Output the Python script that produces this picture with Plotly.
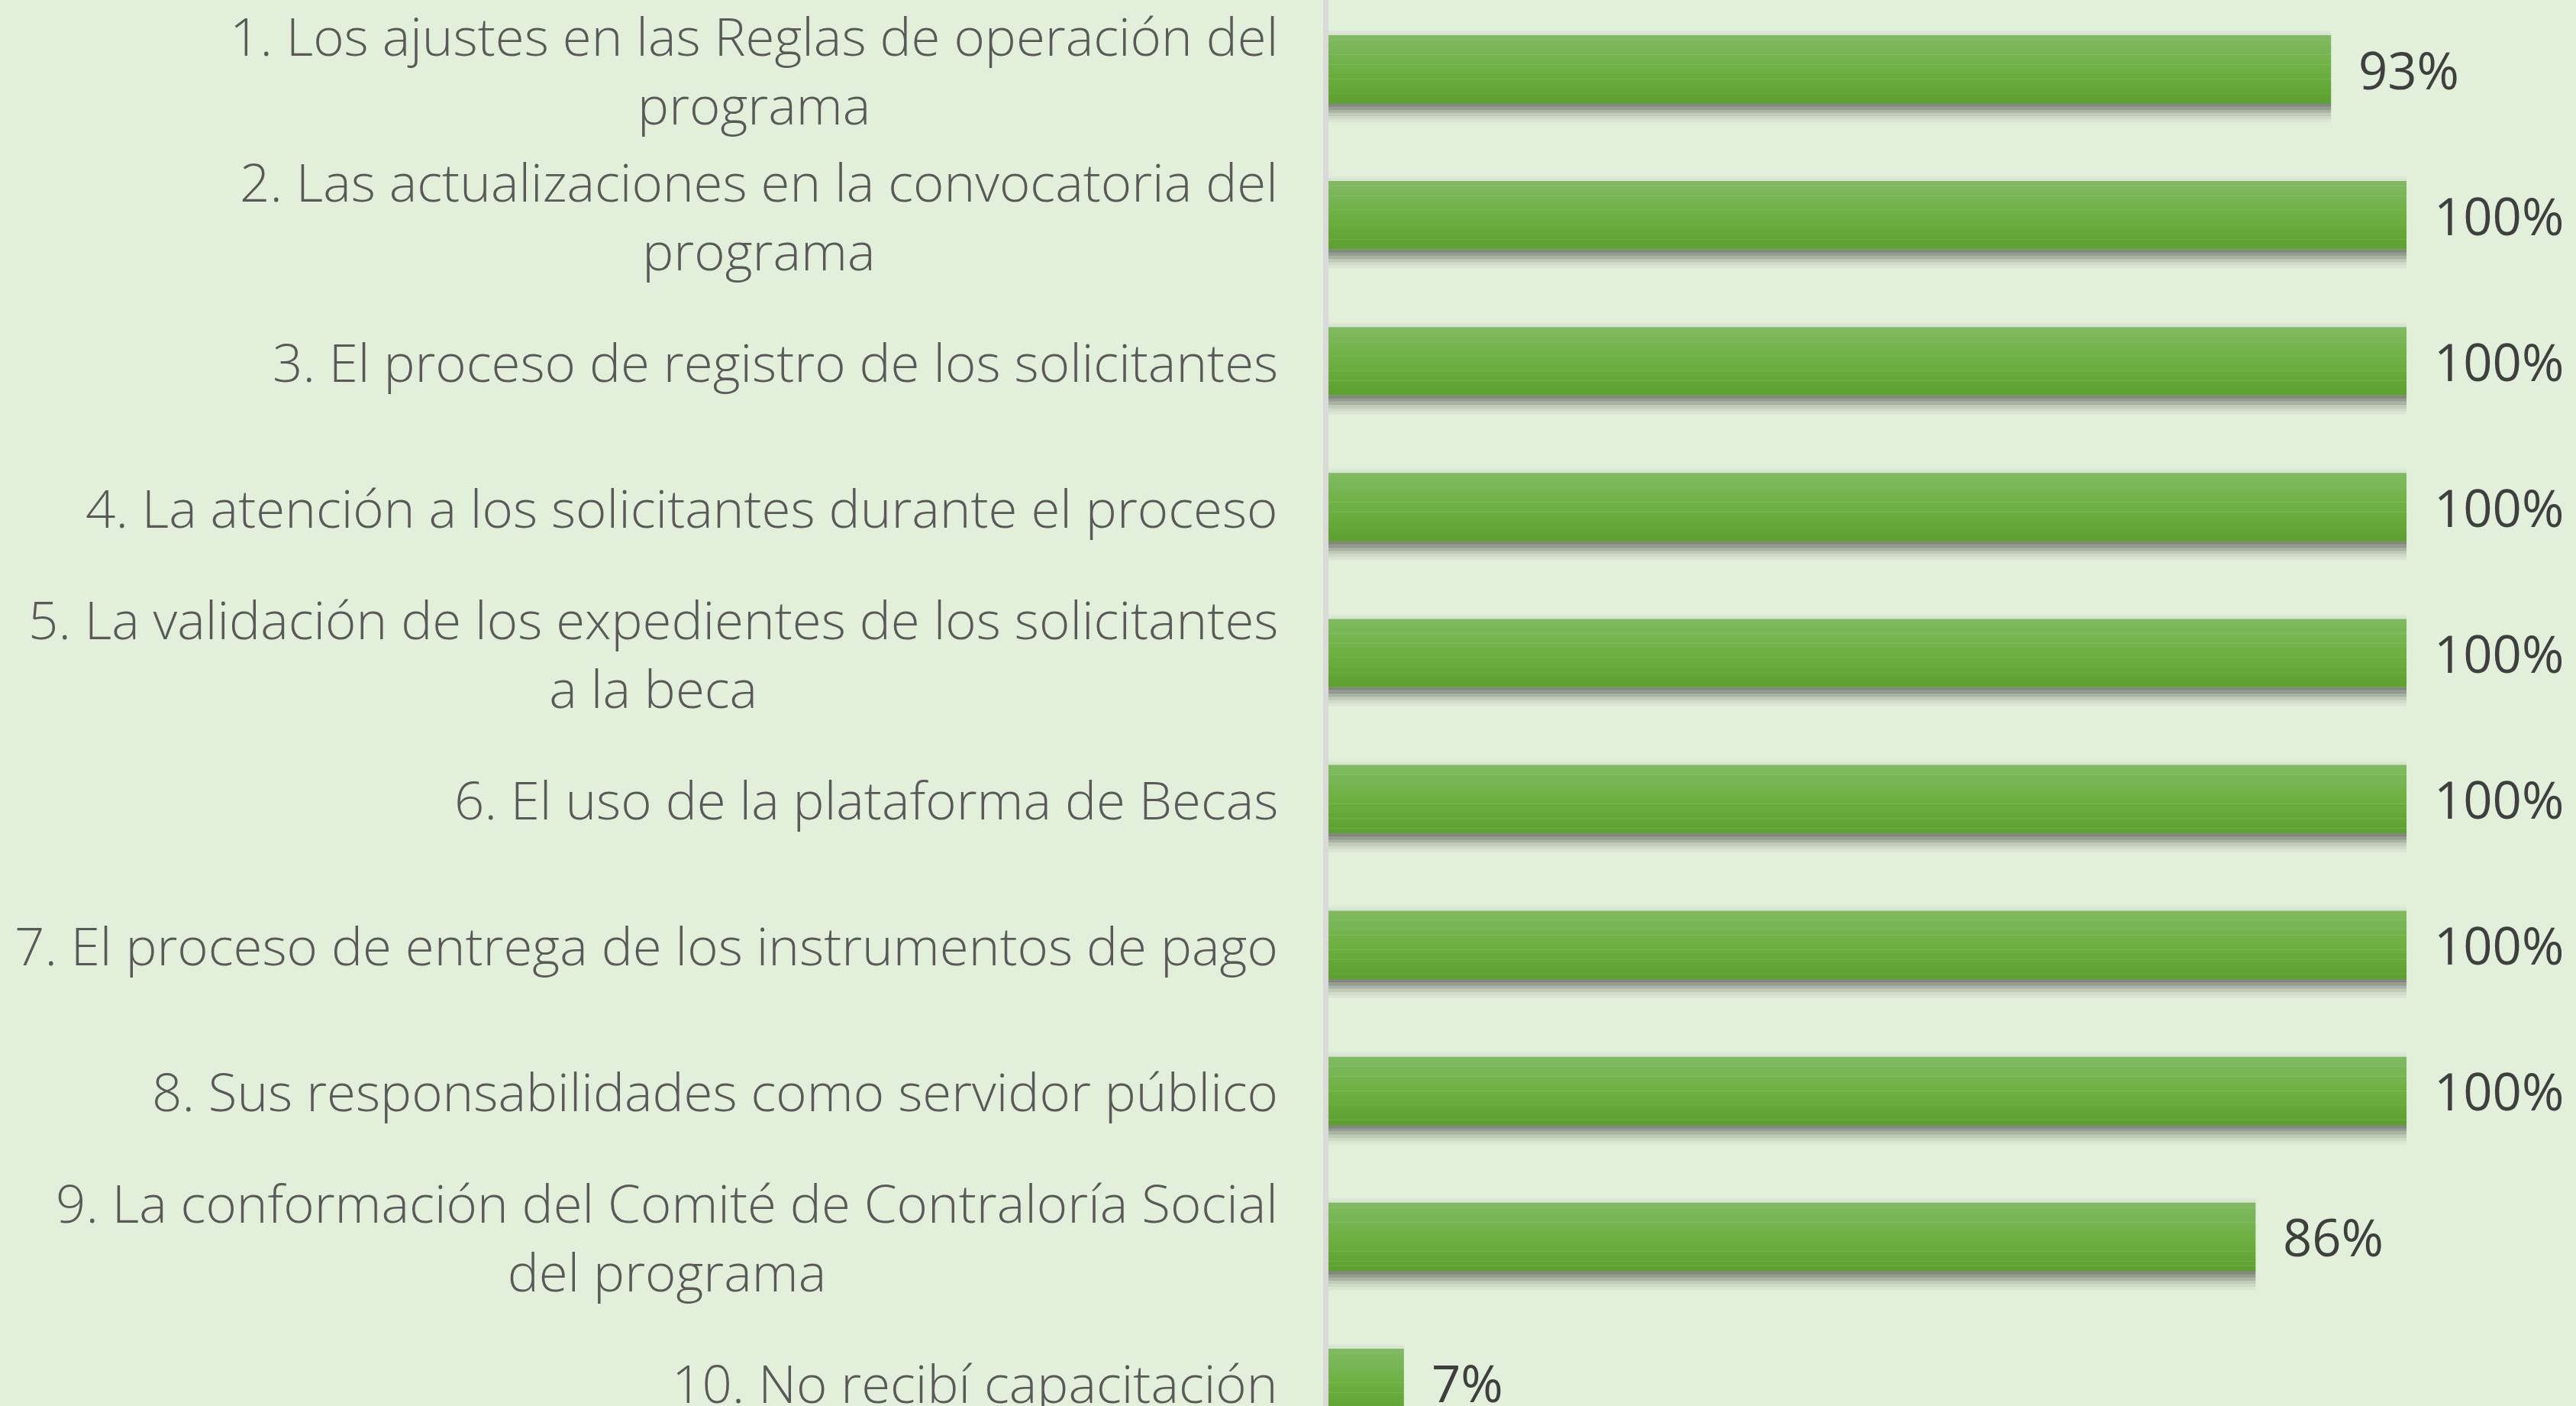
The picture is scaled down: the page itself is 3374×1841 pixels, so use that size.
import plotly.graph_objects as go

categories = [
    "1. Los ajustes en las Reglas de operación del<br>programa",
    "2. Las actualizaciones en la convocatoria del<br>programa",
    "3. El proceso de registro de los solicitantes",
    "4. La atención a los solicitantes durante el proceso",
    "5. La validación de los expedientes de los solicitantes<br>a la beca",
    "6. El uso de la plataforma de Becas",
    "7. El proceso de entrega de los instrumentos de pago",
    "8. Sus responsabilidades como servidor público",
    "9. La conformación del Comité de Contraloría Social<br>del programa",
    "10. No recibí capacitación",
]
values = [93, 100, 100, 100, 100, 100, 100, 100, 86, 7]
value_labels = ["93%", "100%", "100%", "100%", "100%", "100%", "100%", "100%", "86%", "7%"]

pos = list(range(len(categories)))

BG = "#E2EFDA"
FONT = "Open Sans"
bar_h = 0.466

fig = go.Figure()

# shadow below bars
shadow_alphas = [0.62, 0.5, 0.36, 0.22, 0.12, 0.05]
sh_w = 0.022
for i, a in enumerate(shadow_alphas):
    fig.add_trace(go.Bar(
        x=values, y=pos, orientation="h",
        width=sh_w + 0.001, offset=bar_h / 2 + i * sh_w,
        marker=dict(color=f"rgba(70,75,68,{a})", line=dict(width=0)),
        hoverinfo="skip", showlegend=False,
    ))
# faint shadow above
for i, a in enumerate([0.06, 0.03]):
    fig.add_trace(go.Bar(
        x=values, y=pos, orientation="h",
        width=0.016, offset=-bar_h / 2 - (i + 1) * 0.015,
        marker=dict(color=f"rgba(70,75,68,{a})", line=dict(width=0)),
        hoverinfo="skip", showlegend=False,
    ))

# gradient bar built from bands
top = (128, 185, 98)
mid = (110, 176, 67)
bot = (94, 161, 50)
n = 14
for i in range(n):
    t = i / (n - 1)
    if t < 0.5:
        c = tuple(round(top[k] + (mid[k] - top[k]) * t * 2) for k in range(3))
    else:
        c = tuple(round(mid[k] + (bot[k] - mid[k]) * (t - 0.5) * 2) for k in range(3))
    fig.add_trace(go.Bar(
        x=values, y=pos, orientation="h",
        width=bar_h / n + 0.002, offset=-bar_h / 2 + i * bar_h / n,
        marker=dict(color=f"rgb{c}", line=dict(width=0)),
        hoverinfo="skip", showlegend=False,
    ))

for p, lab in zip(pos, categories):
    fig.add_annotation(
        x=0, y=p, xref="x", yref="y", text=lab, showarrow=False,
        xanchor="right", yanchor="middle", align="center", xshift=-64,
        font=dict(family=FONT, size=69, color="#595959", weight=300),
    )

for p, v, lab in zip(pos, values, value_labels):
    fig.add_annotation(
        x=v, y=p, xref="x", yref="y", text=lab, showarrow=False,
        xanchor="left", yanchor="middle", xshift=34,
        font=dict(family=FONT, size=67, color="#3F3F3F", weight=500),
    )

fig.update_layout(
    width=3374, height=1841,
    margin=dict(l=1740, r=0, t=0, b=0),
    paper_bgcolor=BG, plot_bgcolor=BG,
    barmode="overlay",
    showlegend=False,
    xaxis=dict(range=[0, 115.72], visible=False, fixedrange=True),
    yaxis=dict(range=[9.16, -0.4736], showticklabels=False, showgrid=False,
               zeroline=False, showline=True, linecolor="#D9D9D9", linewidth=7,
               ticks=""),
)

fig.write_html(
    "out.html",
    config={"displayModeBar": False},
    post_script="document.body.style.margin='0';document.body.style.overflow='hidden';",
)
